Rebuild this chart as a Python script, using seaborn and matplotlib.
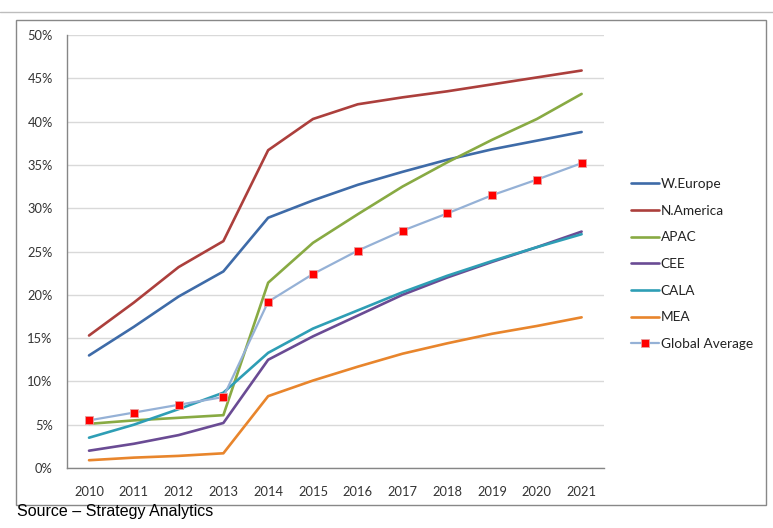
import matplotlib
matplotlib.use("Agg")
import matplotlib.pyplot as plt
import seaborn as sns
import pandas as pd
from matplotlib.patches import Rectangle
from matplotlib.lines import Line2D
from matplotlib.ticker import FixedLocator, PercentFormatter

years = [2010, 2011, 2012, 2013, 2014, 2015, 2016, 2017, 2018, 2019, 2020, 2021]
w_europe = [13.0, 16.3, 19.8, 22.7, 28.9, 30.9, 32.7, 34.2, 35.6, 36.8, 37.8, 38.8]
n_america = [15.3, 19.1, 23.2, 26.2, 36.7, 40.3, 42.0, 42.8, 43.5, 44.3, 45.1, 45.9]
apac = [5.1, 5.5, 5.8, 6.1, 21.4, 26.0, 29.3, 32.5, 35.3, 37.9, 40.3, 43.2]
cee = [2.0, 2.8, 3.8, 5.2, 12.5, 15.2, 17.6, 20.0, 22.0, 23.8, 25.5, 27.3]
cala = [3.5, 5.0, 6.8, 8.7, 13.3, 16.1, 18.2, 20.3, 22.2, 23.9, 25.5, 27.0]
mea = [0.9, 1.2, 1.4, 1.7, 8.3, 10.1, 11.7, 13.2, 14.4, 15.5, 16.4, 17.4]
global_avg = [5.5, 6.4, 7.3, 8.2, 19.2, 22.4, 25.1, 27.4, 29.4, 31.5, 33.3, 35.2]

regions = ["W.Europe", "N.America", "APAC", "CEE", "CALA", "MEA"]
region_values = [w_europe, n_america, apac, cee, cala, mea]
colors = {"W.Europe": "#3E6BA8", "N.America": "#AC3F3C", "APAC": "#88AA43",
          "CEE": "#6A4B94", "CALA": "#2E9EB5", "MEA": "#E8852C"}
avg_color = "#95B1D6"

rows = []
for name, vals in zip(regions, region_values):
    for y, v in zip(years, vals):
        rows.append({"Year": y, "Share": v, "Region": name})
df = pd.DataFrame(rows)
df_avg = pd.DataFrame({"Year": years, "Share": global_avg})

sns.set_style("white")
plt.rcParams["font.family"] = ["Lato", "DejaVu Sans"]

fig = plt.figure(figsize=(7.73, 5.28), dpi=100)
ax = fig.add_axes([0.0862, 0.1136, 0.6952, 0.8201])

sns.lineplot(data=df, x="Year", y="Share", hue="Region", hue_order=regions,
             palette=colors, linewidth=1.9, ax=ax, legend=False)
sns.lineplot(data=df_avg, x="Year", y="Share", color=avg_color, linewidth=1.6,
             marker="s", markersize=6, markerfacecolor="#FF0000",
             markeredgecolor="#E8A0A0", markeredgewidth=0.6, ax=ax, legend=False)

ax.set_xlim(2009.5, 2021.5)
ax.set_ylim(0, 50)
ax.set_xlabel("")
ax.set_ylabel("")

ax.set_xticks(years)
ax.set_xticklabels([str(y) for y in years])
ax.xaxis.set_minor_locator(FixedLocator([y - 0.5 for y in years] + [2021.5]))
ax.tick_params(axis="x", which="major", length=0, pad=13, labelsize=9.3, colors="#333333")
ax.tick_params(axis="x", which="minor", length=4, width=1, color="#868686", direction="out")
ax.set_yticks(range(0, 51, 5))
ax.yaxis.set_major_formatter(PercentFormatter(decimals=0))
ax.tick_params(axis="y", length=4, width=1, color="#868686", direction="out",
               labelsize=9.3, pad=6, labelcolor="#333333")

ax.grid(axis="y", color="#D9D9D9", linewidth=1)
ax.grid(axis="x", visible=False)
for s in ["top", "right"]:
    ax.spines[s].set_visible(False)
for s in ["left", "bottom"]:
    ax.spines[s].set_color("#868686")
    ax.spines[s].set_linewidth(1)

handles = [Line2D([], [], color=colors[r], linewidth=1.9) for r in regions]
handles.append(Line2D([], [], color=avg_color, linewidth=1.6, marker="s",
                      markersize=6, markerfacecolor="#FF0000", markeredgecolor="#E8A0A0",
                      markeredgewidth=0.6))
labels = regions + ["Global Average"]
fig.legend(handles, labels, loc="upper left", bbox_to_anchor=(0.808, 0.676),
           frameon=False, fontsize=9.8, handlelength=2.0, handletextpad=0.15,
           labelspacing=1.08, borderpad=0, labelcolor="#222222")

# outer frame
fig.patches.append(Rectangle((0.0207, 0.0436), 0.970, 0.9186, transform=fig.transFigure,
                             fill=False, edgecolor="#888888", linewidth=1))
# top separator line
fig.add_artist(Line2D([0, 1], [1 - 12 / 528, 1 - 12 / 528], transform=fig.transFigure,
                      color="#BDBDBD", linewidth=1))

fig.text(0.022, 0.022, "Source \u2013 Strategy Analytics", fontsize=11.5,
         family=["Liberation Sans Narrow", "DejaVu Sans Condensed", "Liberation Sans"],
         ha="left", va="baseline", color="#000000")

fig.savefig("out.png", dpi=100)
